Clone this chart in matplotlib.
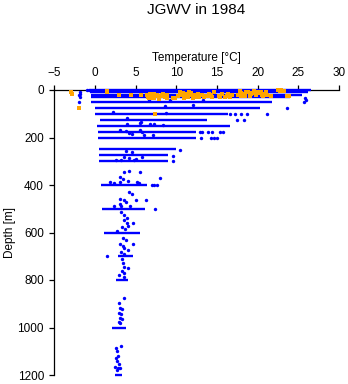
import matplotlib
matplotlib.use('Agg')
import matplotlib.pyplot as plt

# standard depths sampled densely -> drawn as bars from min to max temperature
levels = [0, 10, 20, 30, 50, 75, 100, 125, 150, 175, 200, 250, 275, 300,
          400, 500, 600, 700, 800, 1000, 1200]
tmin = [-0.6, -0.6, -0.5, -0.5, -0.5, 0.0, 0.0, 0.6, 0.2, 0.3, 0.3, 0.5, 0.5, 0.5,
        0.75, 0.9, 1.15, 2.8, 2.6, 2.1, 2.5]
tmax = [26.6, 26.2, 25.5, 24.0, 21.7, 20.3, 16.3, 13.7, 16.6, 12.4, 12.4, 10.0, 9.0, 9.0,
        6.4, 6.1, 5.5, 4.6, 4.1, 3.8, 3.3]

# single blue observations (temperature, depth)
blue_t = [-1.0, -0.8, -1.9, -1.9, -2.0, -1.9, -2.0,
          25.8, 26.0, 25.7, 6.6, 9.2, 13.3,
          12.1, 8.6, 23.6,
          2.2, 8.7, 21.1, 16.6, 17.2, 18.0, 18.7,
          3.9, 5.6, 17.4, 18.3,
          3.9, 5.5, 6.8, 7.3, 8.3,
          3.0, 3.8, 4.2, 4.5, 5.5, 5.8, 6.0, 7.1,
          12.9, 13.2, 13.9, 14.4, 15.4, 15.7,
          13.0, 14.2, 14.6, 15.0,
          10.5, 3.8, 4.5,
          9.6, 3.5, 4.2, 5.0, 5.8, 2.6, 3.2, 4.8,
          9.6,
          3.6, 4.2, 5.5, 3.0, 3.4, 1.8, 2.3, 3.1, 4.0, 5.1, 5.4, 8.0,
          7.0, 7.3, 7.6,
          4.2, 4.5, 3.1, 3.5, 3.8, 5.0, 6.3, 2.3, 3.0, 3.2, 4.3,
          7.4,
          3.2, 3.6, 3.9, 3.5, 3.9, 4.6, 4.1, 3.3, 3.7, 2.7,
          3.4, 3.8, 3.1, 3.4, 4.6, 3.6, 4.0, 3.2, 3.6, 1.5,
          3.3, 3.4, 3.5, 4.0, 3.3, 3.5, 2.9, 3.6,
          3.6, 2.9, 3.0, 3.3, 2.9, 3.2, 3.0, 3.3, 2.9, 3.1,
          3.2, 2.6, 2.7, 2.8, 2.6, 2.7, 2.9, 2.5, 2.8, 3.1, 2.7]
blue_d = [0, 2, 10, 16, 22, 28, 52,
          35, 42, 50, 42, 42, 42,
          65, 67, 75,
          93, 98, 100, 100, 100, 100, 100,
          117, 135, 125, 125,
          142, 140, 145, 142, 146,
          168, 172, 180, 186, 168, 178, 188, 190,
          175, 175, 175, 175, 175, 175,
          200, 200, 200, 200,
          252, 258, 262,
          276, 282, 287, 292, 280, 296, 294, 296,
          300,
          347, 341, 347, 368, 375, 386, 390, 386, 385, 386, 392, 372,
          400, 400, 400,
          431, 439, 459, 465, 472, 463, 463, 487, 480, 490, 488,
          500,
          515, 528, 538, 548, 558, 560, 571, 578, 586, 592,
          624, 632, 650, 658, 650, 667, 674, 683, 692, 699,
          713, 730, 745, 750, 761, 770, 779, 786,
          877, 895, 918, 920, 937, 945, 958, 966, 975, 981,
          1078, 1088, 1100, 1118, 1128, 1140, 1152, 1165, 1172, 1172, 1180]

# flagged (orange) observations
orange_t = [-3.0, -2.9, -2.0, 7.4,
            1.4, 1.4, 2.9, 4.4, 5.7,
            6.4, 6.8, 7.0, 7.3, 7.6, 8.0, 8.4, 8.6, 8.9, 8.9, 7.8, 6.6, 9.6, 9.8,
            6.5, 7.2, 7.9, 8.5, 6.9, 7.5, 8.2, 8.8,
            10.4, 10.6, 11.0, 11.4, 11.8, 12.2, 12.6, 10.9, 12.8, 12.0,
            10.2, 10.8, 11.3, 11.9, 12.4, 11.6, 12.9,
            13.2, 13.6, 14.0, 14.4, 14.6, 13.4, 13.9, 14.2,
            15.2, 15.6, 16.0, 16.4, 16.8, 15.4, 16.2, 16.6,
            17.6, 18.0, 18.4, 18.8, 19.2, 19.6, 19.8, 20.2, 20.6, 21.0, 21.2, 21.6,
            17.8, 18.2, 18.6, 19.0, 19.4, 20.0, 20.4, 20.8, 17.9, 19.1, 20.5,
            22.5, 22.9, 23.2, 23.6, 23.9, 22.7]
orange_d = [10, 15, 77, 100,
            6, 10, 22, 22, 21,
            20, 15, 25, 32, 20, 26, 16, 30, 22, 35, 36, 34, 32, 35,
            28, 18, 30, 24, 34, 27, 21, 27,
            10, 22, 18, 28, 12, 22, 16, 32, 30, 33,
            25, 14, 24, 20, 28, 8, 22,
            20, 26, 18, 30, 10, 28, 24, 23,
            25, 18, 28, 15, 22, 30, 24, 28,
            20, 12, 26, 8, 18, 4, 22, 14, 26, 8, 20, 24,
            6, 16, 10, 14, 12, 8, 10, 18, 26, 25, 20,
            2, 0, 6, 24, 26, 4]

plt.rcParams['font.family'] = ['Liberation Sans', 'DejaVu Sans']

fig = plt.figure(figsize=(3.48, 3.84), dpi=100)
ax = fig.add_axes([54.5 / 348, 1 - 375 / 384, (339 - 54.5) / 348, (375 - 90) / 384])

ax.hlines(levels, tmin, tmax, colors='#0000ff', lw=1.7, zorder=3, clip_on=False)
ax.scatter(blue_t, blue_d, s=6, c='#0000ff', marker='o', linewidths=0, zorder=3, clip_on=False)
ax.scatter(orange_t, orange_d, s=9, c='#ffa500', marker='s', linewidths=0, zorder=4, clip_on=False)

ax.set_xlim(-5, 30)
ax.set_ylim(1200, 0)
ax.xaxis.tick_top()
ax.xaxis.set_label_position('top')
for side in ['right', 'bottom']:
    ax.spines[side].set_visible(False)
for side in ['top', 'left']:
    ax.spines[side].set_linewidth(0.9)
ax.set_xticks(range(-5, 31, 5))
ax.set_yticks(range(0, 1201, 200))
ax.tick_params(direction='out', length=3.6, width=0.9, labelsize=8.5, pad=4)

ax.set_xlabel('Temperature [°C]', fontsize=8.5, labelpad=5)
ax.set_ylabel('Depth [m]', fontsize=8.5, labelpad=1)
fig.text(196.5 / 348, 1 - 13.5 / 384, 'JGWV in 1984', ha='center', va='baseline', fontsize=11)

fig.savefig('out.png', dpi=100)
